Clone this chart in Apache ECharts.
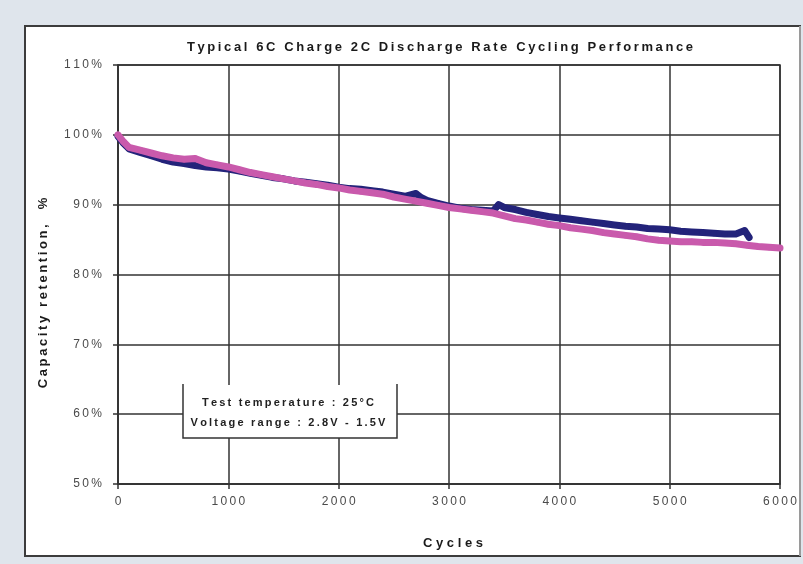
<!DOCTYPE html>
<html>
<head>
<meta charset="utf-8">
<script src="https://cdn.jsdelivr.net/npm/echarts@6/dist/echarts.min.js"></script>
<style>
  html, body { margin: 0; padding: 0; background: #dfe5ec; }
  #chart { width: 803px; height: 564px; }
</style>
</head>
<body>
<div id="chart"></div>
<script>
// Cycle counts and capacity retention (%) for the two test cells
const pinkCycles = [0, 50, 100, 200, 300, 400, 500, 600, 700, 800, 900, 1000, 1100, 1200, 1300, 1400, 1500,
  1600, 1700, 1800, 1900, 2000, 2100, 2200, 2300, 2400, 2500, 2600, 2700, 2800, 2900, 3000, 3100, 3200,
  3300, 3400, 3500, 3600, 3700, 3800, 3900, 4000, 4100, 4200, 4300, 4400, 4500, 4600, 4700, 4800, 4900,
  5000, 5100, 5200, 5300, 5400, 5500, 5600, 5700, 5800, 5900, 6000];
const pinkRetention = [100.0, 99.0, 98.2, 97.8, 97.4, 97.0, 96.7, 96.5, 96.6, 96.0, 95.7, 95.4, 95.0, 94.6,
  94.3, 94.0, 93.7, 93.4, 93.1, 92.9, 92.6, 92.4, 92.1, 91.9, 91.7, 91.5, 91.1, 90.8, 90.5, 90.2, 89.9,
  89.6, 89.4, 89.2, 89.0, 88.8, 88.4, 88.0, 87.8, 87.5, 87.2, 87.0, 86.7, 86.5, 86.3, 86.0, 85.8, 85.6,
  85.4, 85.1, 84.9, 84.8, 84.7, 84.7, 84.6, 84.6, 84.5, 84.4, 84.2, 84.0, 83.9, 83.8];

const blueCycles = [0, 50, 100, 200, 300, 400, 500, 600, 700, 800, 900, 1000, 1100, 1200, 1300, 1400, 1500,
  1600, 1700, 1800, 1900, 2000, 2100, 2200, 2300, 2400, 2500, 2600, 2700, 2750, 2800, 2900, 3000, 3100,
  3200, 3300, 3400, 3450, 3500, 3600, 3700, 3800, 3900, 4000, 4100, 4200, 4300, 4400, 4500, 4600, 4700,
  4800, 4900, 5000, 5100, 5200, 5300, 5400, 5500, 5600, 5680, 5720];
const blueRetention = [99.8, 98.8, 98.0, 97.5, 97.0, 96.5, 96.1, 95.9, 95.6, 95.4, 95.3, 95.1, 94.8, 94.5,
  94.2, 93.9, 93.7, 93.4, 93.2, 93.0, 92.8, 92.5, 92.3, 92.2, 92.0, 91.8, 91.5, 91.2, 91.6, 91.0, 90.6,
  90.2, 89.8, 89.5, 89.3, 89.2, 89.1, 90.0, 89.6, 89.3, 88.9, 88.6, 88.3, 88.1, 87.9, 87.7, 87.5, 87.3,
  87.1, 86.9, 86.8, 86.6, 86.5, 86.4, 86.2, 86.1, 86.0, 85.9, 85.8, 85.8, 86.3, 85.3];

const xTicks = [0, 1000, 2000, 3000, 4000, 5000, 6000];
const yTicks = [50, 60, 70, 80, 90, 100, 110];

const titleText = 'Typical 6C Charge 2C Discharge Rate Cycling Performance';
const xName = 'Cycles';
const yName = 'Capacity retention,  %';
const noteLines = ['Test temperature : 25\u00B0C', 'Voltage range : 2.8V - 1.5V'];

const pair = (xs, ys) => xs.map((x, i) => [x, ys[i]]);
// widen text by putting a thin space between letters
const spaced = (s, gap) => s.split('').join(gap || '\u2009');

const chart = echarts.init(document.getElementById('chart'), null, { renderer: 'canvas' });

const FONT = '"Liberation Sans", Arial, sans-serif';
const GRID = { left: 118, top: 65, width: 662, height: 419 };
const INK = '#1a1a1a';

chart.setOption({
  animation: false,
  backgroundColor: 'transparent',
  graphic: [
    // white chart panel with dark frame
    { type: 'rect', z: -10, shape: { x: 25, y: 26, width: 775, height: 530 },
      style: { fill: '#ffffff', stroke: '#3c3c3c', lineWidth: 2 } },
    { type: 'line', z: -9, shape: { x1: 800, y1: 26, x2: 800, y2: 556 },
      style: { stroke: '#9a9a9a', lineWidth: 2 } },
    // chart title
    { type: 'text', z: 52, x: 440, y: 47,
      style: { text: spaced(titleText), font: 'bold 13px ' + FONT, fill: INK, align: 'center', verticalAlign: 'middle' } },
    // note box
    { type: 'rect', z: 50, shape: { x: 183, y: 385, width: 214, height: 53 },
      style: { fill: '#ffffff', stroke: null } },
    { type: 'polyline', z: 51, shape: { points: [[183, 384], [183, 438], [397, 438], [397, 384]] },
      style: { stroke: '#333333', lineWidth: 1.5, fill: null } },
    { type: 'text', z: 52, x: 288, y: 403,
      style: { text: spaced(noteLines[0]), font: 'bold 11px ' + FONT, fill: '#222', align: 'center', verticalAlign: 'middle' } },
    { type: 'text', z: 52, x: 288, y: 423,
      style: { text: spaced(noteLines[1]), font: 'bold 11px ' + FONT, fill: '#222', align: 'center', verticalAlign: 'middle' } },
    // axis titles
    { type: 'text', z: 52, x: 43, y: 293, rotation: Math.PI / 2,
      style: { text: spaced(yName), font: 'bold 13px ' + FONT, fill: INK, align: 'center', verticalAlign: 'middle' } },
    { type: 'text', z: 52, x: 453, y: 543,
      style: { text: spaced(xName, ' '), font: 'bold 13px ' + FONT, fill: INK, align: 'center', verticalAlign: 'middle' } }
  ],
  grid: Object.assign({ show: true, borderColor: '#333', borderWidth: 1.5, backgroundColor: 'transparent' }, GRID),
  xAxis: {
    type: 'value', min: xTicks[0], max: xTicks[xTicks.length - 1], interval: 1000,
    axisLine: { show: true, lineStyle: { color: '#333', width: 1.5 } },
    axisTick: { show: true, inside: false, length: 5, lineStyle: { color: '#333', width: 1.5 } },
    axisLabel: { margin: 12, fontFamily: FONT, fontSize: 12, color: '#4a4a4a',
      formatter: v => spaced(String(v)) },
    splitLine: { show: true, lineStyle: { color: '#333', width: 1.5 } }
  },
  yAxis: {
    type: 'value', min: yTicks[0], max: yTicks[yTicks.length - 1], interval: 10,
    axisLine: { show: true, lineStyle: { color: '#333', width: 1.5 } },
    axisTick: { show: true, inside: false, length: 5, lineStyle: { color: '#333', width: 1.5 } },
    axisLabel: { margin: 16, fontFamily: FONT, fontSize: 12, color: '#4a4a4a',
      formatter: v => spaced(v + '%') },
    splitLine: { show: true, lineStyle: { color: '#333', width: 1.5 } }
  },
  series: [
    {
      name: 'Cell B', type: 'line', data: pair(blueCycles, blueRetention),
      showSymbol: true, symbol: 'circle', symbolSize: 6,
      itemStyle: { color: '#23237a' },
      lineStyle: { color: '#23237a', width: 7, join: 'round', cap: 'round' }, z: 3
    },
    {
      name: 'Cell A', type: 'line', data: pair(pinkCycles, pinkRetention),
      showSymbol: true, symbol: 'circle', symbolSize: 6,
      itemStyle: { color: '#c95aac' },
      lineStyle: { color: '#c95aac', width: 7, join: 'round', cap: 'round' }, z: 4
    }
  ]
});
</script>
</body>
</html>
